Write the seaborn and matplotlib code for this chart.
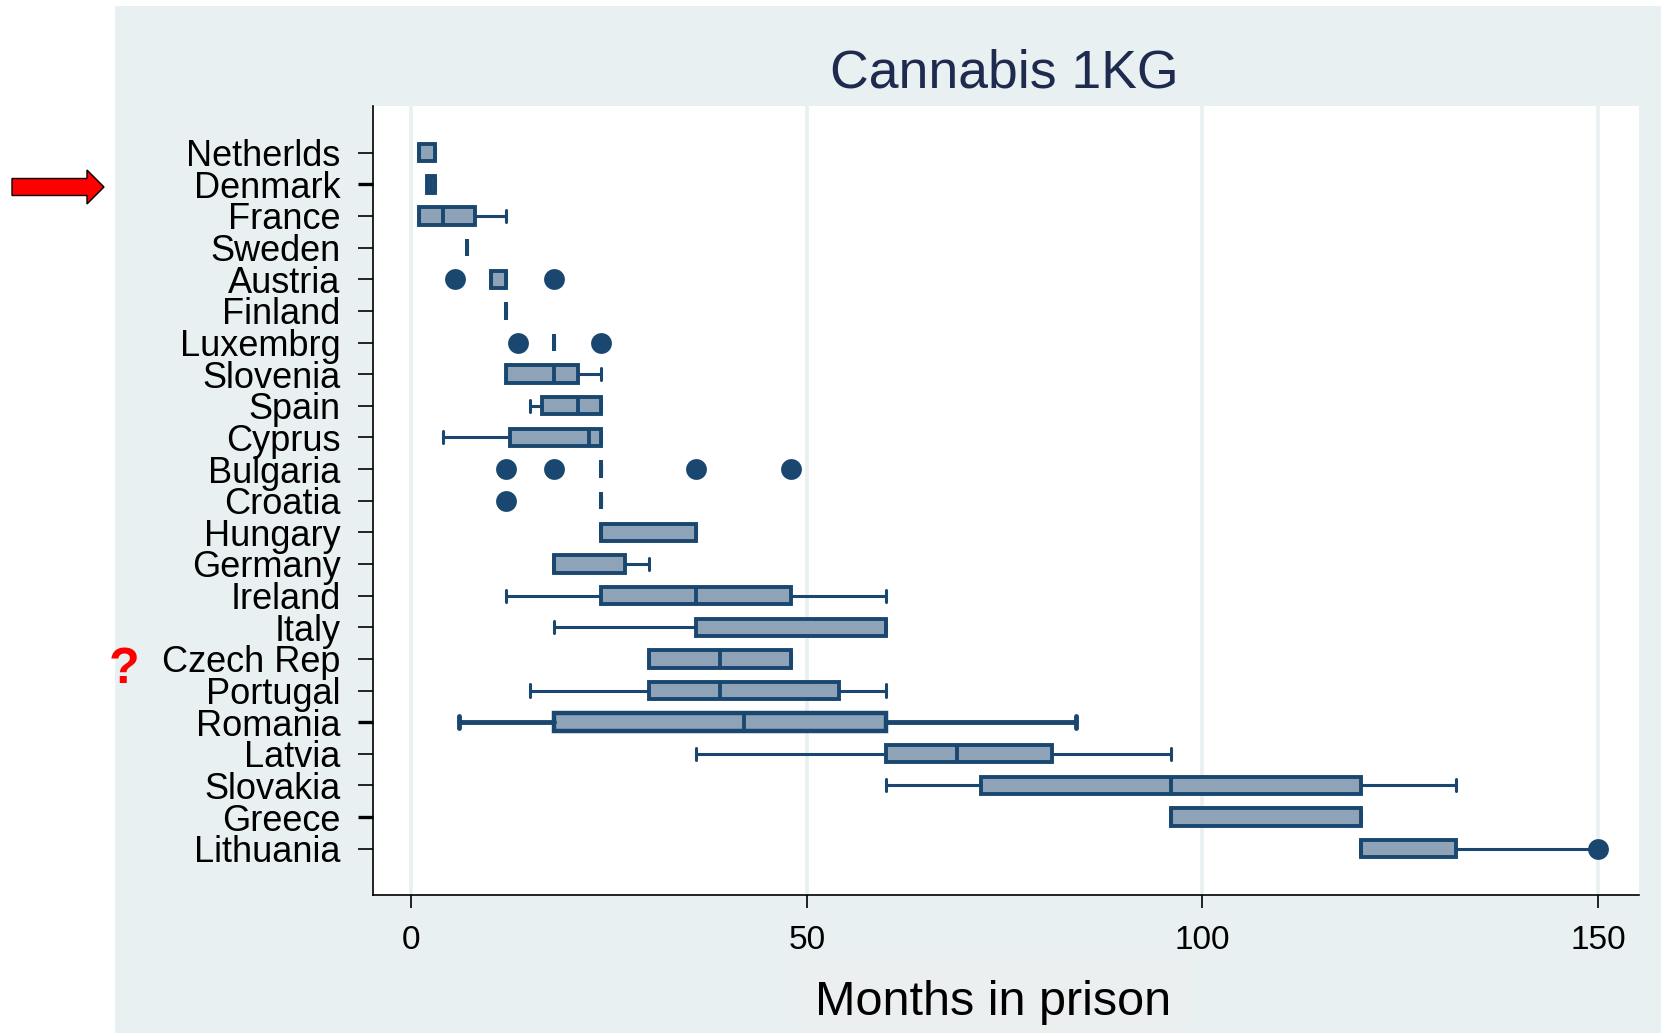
import matplotlib
matplotlib.use("Agg")
import matplotlib.pyplot as plt
from matplotlib.patches import Rectangle, Polygon
import seaborn as sns

# ---------------- data (months in prison, cannabis 1 kg) ----------------
countries = ["Netherlds", "Denmark", "France", "Sweden", "Austria", "Finland",
             "Luxembrg", "Slovenia", "Spain", "Cyprus", "Bulgaria", "Croatia",
             "Hungary", "Germany", "Ireland", "Italy", "Czech Rep", "Portugal",
             "Romania", "Latvia", "Slovakia", "Greece", "Lithuania"]
q1 = [1, 2, 1, 7, 10, 12, 18, 12, 16.5, 12.5, 24, 24,
      24, 18, 24, 36, 30, 30, 18, 60, 72, 96, 120]
median = [1, 2.5, 4, 7, 10, 12, 18, 18, 21, 22.5, 24, 24,
          24, 18, 36, 60, 39, 39, 42, 69, 96, 96, 120]
q3 = [3, 3, 8, 7, 12, 12, 18, 21, 24, 24, 24, 24,
      36, 27, 48, 60, 48, 54, 60, 81, 120, 120, 132]
whisker_low = [1, 2, 1, 7, 10, 12, 18, 12, 15, 4, 24, 24,
               24, 18, 12, 18, 30, 15, 6, 36, 60, 96, 120]
whisker_high = [3, 3, 12, 7, 12, 12, 18, 24, 24, 24, 24, 24,
                36, 30, 60, 60, 48, 60, 84, 96, 132, 120, 150]
outlier_country = ["Austria", "Austria", "Luxembrg", "Luxembrg",
                   "Bulgaria", "Bulgaria", "Bulgaria", "Bulgaria",
                   "Croatia", "Lithuania"]
outlier_value = [5.5, 18, 13.5, 24, 12, 18, 36, 48, 12, 150]
x_ticks = [0, 50, 100, 150]

title = "Cannabis 1KG"
x_label = "Months in prison"

# ---------------- style ----------------
NAVY = "#1A476F"
FILL = "#8EA3B7"
PANEL = "#E8F0F2"

sns.set_theme(style="white")
plt.rcParams['font.family'] = ['Liberation Sans', 'DejaVu Sans']

W, H = 1661, 1033
fig = plt.figure(figsize=(W / 100, H / 100), dpi=100)
fig.patch.set_facecolor("white")
fig.patches.append(Rectangle((115 / W, 0), 1 - 115 / W, 1 - 6 / H,
                             transform=fig.transFigure, facecolor=PANEL,
                             edgecolor="none", zorder=0))
fig.patches.append(Rectangle((797 / W, 0), (1191 - 797) / W, (H - 957) / H,
                             transform=fig.transFigure, facecolor="#EBEFEF",
                             edgecolor="none", zorder=0.5))

ax = fig.add_axes([372.5 / W, 1 - 895 / H, (1639 - 372.5) / W, (895 - 106) / H])
ax.set_zorder(2)
ax.set_facecolor("white")

# outliers through seaborn (categorical positions 0..22)
sns.stripplot(x=outlier_value, y=outlier_country, order=countries,
              jitter=False, size=15, color=NAVY, linewidth=0,
              orient="h", ax=ax, zorder=4)

stats = []
for i, c in enumerate(countries):
    stats.append(dict(label=c, q1=q1[i], med=median[i], q3=q3[i],
                      whislo=whisker_low[i], whishi=whisker_high[i], fliers=[]))

arts = ax.bxp(stats, positions=list(range(len(countries))), orientation="horizontal",
              widths=0.55, capwidths=0.38, patch_artist=True, showfliers=False,
              boxprops=dict(facecolor=FILL, edgecolor=NAVY, linewidth=2.8),
              medianprops=dict(color=NAVY, linewidth=2.8, solid_capstyle="butt"),
              whiskerprops=dict(color=NAVY, linewidth=2.2),
              capprops=dict(color=NAVY, linewidth=2.2),
              manage_ticks=False, zorder=3)

# Romania drawn with heavier strokes, as in the reference
ri = countries.index("Romania")
arts["boxes"][ri].set_linewidth(3.2)
for ln in arts["whiskers"][2 * ri:2 * ri + 2] + arts["caps"][2 * ri:2 * ri + 2]:
    ln.set_linewidth(3.5)

# axes
ax.set_xlim(-4.93, 155.2)
ax.set_ylim(22 + 1.464, -1.476)
ax.set_xticks(x_ticks)
ax.set_xticklabels([str(t) for t in x_ticks])
ax.set_yticks(range(len(countries)))
ax.set_yticklabels(countries)
ax.set_xlabel("")
ax.set_ylabel("")
ax.grid(False)
ax.xaxis.grid(True, color=PANEL, linewidth=2.6)
ax.set_axisbelow(True)

for s in ["top", "right"]:
    ax.spines[s].set_visible(False)
for s in ["left", "bottom"]:
    ax.spines[s].set_visible(True)
    ax.spines[s].set_color("black")
    ax.spines[s].set_linewidth(1.2)

ax.tick_params(axis="y", which="major", left=True, length=11, width=1.2,
               pad=12, labelsize=26, labelcolor="black", color="black")
ax.tick_params(axis="x", which="major", bottom=True, length=9.5, width=1.2,
               pad=12, labelsize=24, labelcolor="black", color="black")

yt = ax.yaxis.get_major_ticks()
for name in ["Denmark", "Romania", "Greece"]:
    yt[countries.index(name)].tick1line.set_markeredgewidth(2.4)

# titles
fig.text(1004 / W, 1 - 88 / H, title, ha="center", va="baseline",
         fontsize=38.5, color="#1E2B4F", zorder=3)
fig.text(993 / W, 1 - 1015 / H, x_label, ha="center", va="baseline",
         fontsize=35, color="black", zorder=3)

# red arrow annotation
arrow_px = [(12, 178.5), (87, 178.5), (87, 170), (104, 187),
            (87, 204), (87, 195.5), (12, 195.5)]
fig.patches.append(Polygon([(x / W, 1 - y / H) for x, y in arrow_px], closed=True,
                           transform=fig.transFigure, facecolor="#FF0000",
                           edgecolor="black", linewidth=1.0, zorder=5))

# red question mark next to Czech Rep
fig.text(123.5 / W, 1 - 683 / H, "?", ha="center", va="baseline",
         fontsize=36, fontweight="bold", color="#FF0000", zorder=5)

fig.savefig("out.png", dpi=100, facecolor=fig.get_facecolor())
